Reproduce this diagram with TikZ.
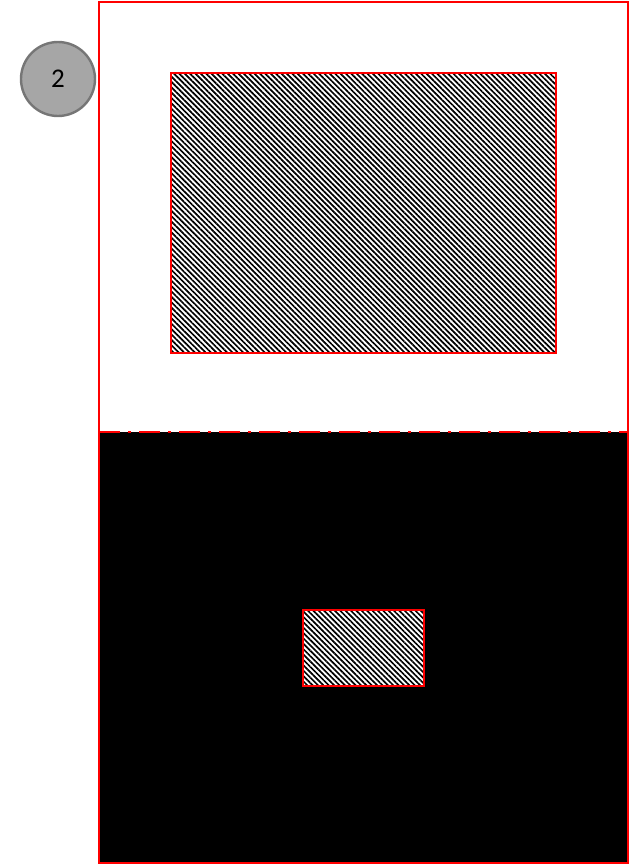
\documentclass[tikz,border=0pt]{standalone}
\usepackage{fontspec}
\setmainfont{Carlito}
\usetikzlibrary{patterns.meta}
\definecolor{redline}{RGB}{255,0,0}
\definecolor{circfill}{RGB}{166,166,166}
\definecolor{circdraw}{RGB}{118,118,118}
\tikzset{
  redbox/.style={draw=redline, line width=2.4pt},
  hatchbox/.style={redbox, pattern={Lines[angle=-45, distance=3.8pt, line width=1.7pt]}},
  dashdotline/.style={draw=redline, line width=2.4pt, dash pattern=on 21pt off 8pt on 3pt off 8pt},
  badge/.style={circle, draw=circdraw, fill=circfill, line width=2.4pt, minimum size=74pt, inner sep=0pt, font=\fontsize{27pt}{32pt}\selectfont}
}
\begin{document}
\begin{tikzpicture}[x=1pt, y=-1pt]
\useasboundingbox (0,0) rectangle (630,867);
% lower black region
\fill[black] (99,432) rectangle (628,863);
% outer frame
\draw[redbox] (99,2) rectangle (628,863);
% dash-dot divider
\coordinate (dl) at (99,432);
\coordinate (dr) at (628,432);
\draw[dashdotline] (dl) -- (dr);
% hatched rectangles
\fill[white] (171,73) rectangle (556,353);
\draw[hatchbox] (171,73) rectangle (556,353);
\fill[white] (303,610) rectangle (424,686);
\draw[hatchbox] (303,610) rectangle (424,686);
% badge
\node[badge] (n2) at (58,79) {2};
\end{tikzpicture}
\end{document}
